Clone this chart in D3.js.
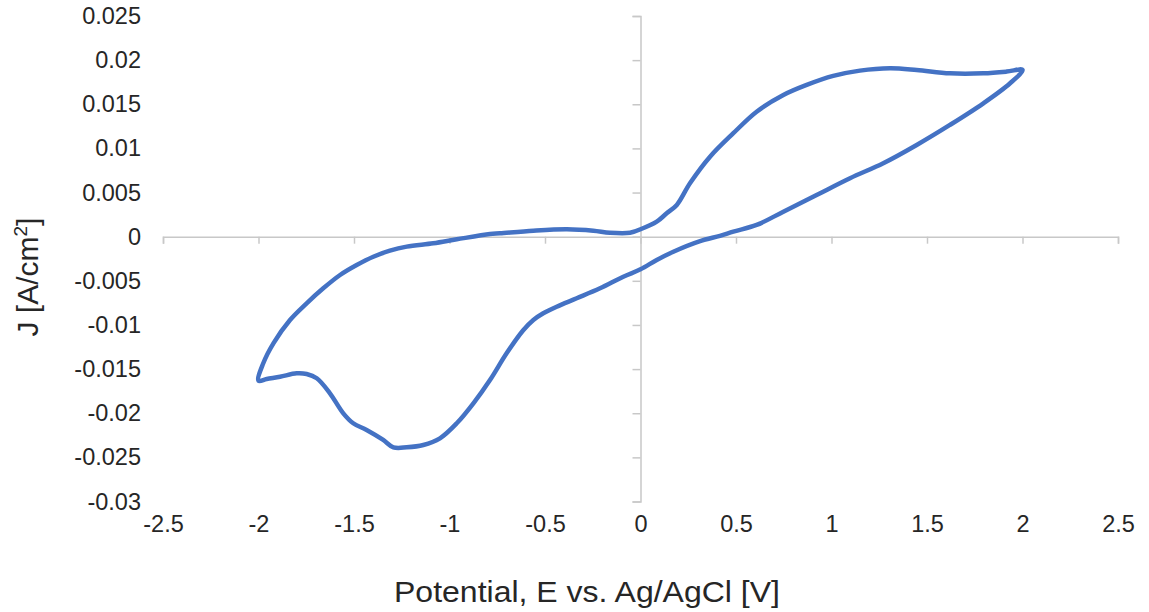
<!DOCTYPE html>
<html>
<head>
<meta charset="utf-8">
<script src="https://cdn.jsdelivr.net/npm/d3@7"></script>
<style>
  html, body { margin: 0; padding: 0; background: #fff; }
  svg text { font-family: "Liberation Sans", Arial, sans-serif; fill: #262626; }
</style>
</head>
<body>
<div id="chart"></div>
<script>
// ── Data: cyclic voltammogram ──
const potential = [
  // 0 → 2 V (anodic, upper branch)
  0.0, 0.085, 0.137, 0.19, 0.259, 0.364, 0.486, 0.608, 0.748, 0.870,
  1.009, 1.149, 1.306, 1.446, 1.620, 1.795, 1.917, 2.0,
  // 2 → -2 V (lower branch)
  1.935, 1.795, 1.620, 1.446, 1.271, 1.097, 0.922, 0.748, 0.608, 0.486,
  0.416, 0.312, 0.172, 0.085, 0.0, -0.09, -0.212, -0.334, -0.439,
  -0.509, -0.561, -0.614, -0.701, -0.788, -0.875, -0.962, -1.05, -1.137,
  -1.224, -1.294, -1.347, -1.434, -1.504, -1.556, -1.626, -1.695, -1.748, -1.800,
  -1.887, -1.957, -2.0,
  // -2 → 0 V (upper-left branch)
  -1.975, -1.922, -1.835, -1.748, -1.661, -1.573, -1.486, -1.399, -1.312, -1.224,
  -1.085, -0.962, -0.788, -0.736, -0.561, -0.386, -0.247, -0.160, -0.055, 0.0
];
const current = [
  0.00084, 0.0017, 0.00265, 0.0036, 0.00605, 0.00906, 0.01172, 0.01416, 0.01605, 0.01719,
  0.01821, 0.01881, 0.01908, 0.01889, 0.01851, 0.01851, 0.0187, 0.0189,
  0.01738, 0.01511, 0.01266, 0.01039, 0.00832, 0.00662, 0.00472, 0.00283, 0.00133, 0.00057,
  0.0001, -0.0005, -0.0017, -0.00264, -0.0037, -0.00453, -0.00585, -0.00698, -0.00793,
  -0.00868, -0.00944, -0.0106, -0.01321, -0.01624, -0.01888, -0.02114, -0.02284, -0.0236,
  -0.02386, -0.02386, -0.02303, -0.0219, -0.02114, -0.02001, -0.01774, -0.01604, -0.01556, -0.01548,
  -0.01586, -0.01612, -0.01631,
  -0.01434, -0.01208, -0.00944, -0.00755, -0.00585, -0.00434, -0.00321, -0.00227, -0.00159, -0.00113,
  -0.00075, -0.0003, 0.0003, 0.00038, 0.00068, 0.00084, 0.00068, 0.00045, 0.00045, 0.00084
];

const xTicks = [-2.5, -2, -1.5, -1, -0.5, 0, 0.5, 1, 1.5, 2, 2.5];
const yTicks = [0.025, 0.02, 0.015, 0.01, 0.005, 0, -0.005, -0.01, -0.015, -0.02, -0.025, -0.03];

const xTitle = "Potential, E vs. Ag/AgCl [V]";

// ── Layout ──
const W = 1149, H = 612;
const LINE_COLOR = "#4472C4";
const AXIS_COLOR = "#C8C8C8";

const svg = d3.select("#chart").append("svg")
  .attr("width", W).attr("height", H);

const x = d3.scaleLinear().domain([-2.5, 2.5]).range([163, 1118]);
const y = d3.scaleLinear().domain([-0.03, 0.025]).range([501.5, 16]);

const fmt = d => String(+d.toFixed(3));

// Y axis line through x = 0
const yAxisLine = svg.append("g")
  .attr("transform", `translate(${x(0)},0)`)
  .call(d3.axisLeft(y).tickValues(yTicks).tickSize(8).tickFormat("").tickSizeOuter(8));
yAxisLine.selectAll("path, line").attr("stroke", AXIS_COLOR).attr("stroke-width", 1.5);

// X axis line through y = 0
const xAxisLine = svg.append("g")
  .attr("transform", `translate(0,${y(0)})`)
  .call(d3.axisBottom(x).tickValues(xTicks).tickSize(7).tickFormat("").tickSizeOuter(7));
xAxisLine.selectAll("path, line").attr("stroke", AXIS_COLOR).attr("stroke-width", 1.5);

// Y tick labels (at the left of the plot)
const yLabels = svg.append("g")
  .attr("transform", "translate(141,0)")
  .call(d3.axisLeft(y).tickValues(yTicks).tickSize(0).tickPadding(0).tickFormat(fmt));
yLabels.select(".domain").remove();
yLabels.selectAll("text")
  .attr("font-size", "23.5px").attr("font-family", null).attr("fill", "#262626");

// X tick labels (at the bottom)
const xLabels = svg.append("g")
  .attr("transform", "translate(0,515)")
  .call(d3.axisBottom(x).tickValues(xTicks).tickSize(0).tickPadding(0).tickFormat(fmt));
xLabels.select(".domain").remove();
xLabels.selectAll("text")
  .attr("font-size", "23.5px").attr("font-family", null).attr("fill", "#262626")
  .attr("dy", "0.71em");

// Curve
const pts = potential.map((e, i) => [e, current[i]]);
const line = d3.line()
  .x(d => x(d[0])).y(d => y(d[1]))
  .curve(d3.curveCatmullRom.alpha(0.5));

svg.append("path")
  .datum(pts)
  .attr("d", line)
  .attr("fill", "none")
  .attr("stroke", LINE_COLOR)
  .attr("stroke-width", 4.5)
  .attr("stroke-linejoin", "round")
  .attr("stroke-linecap", "round");

// Axis titles
svg.append("text")
  .attr("x", 587).attr("y", 602)
  .attr("text-anchor", "middle")
  .attr("font-size", "29px")
  .attr("textLength", 386)
  .attr("lengthAdjust", "spacingAndGlyphs")
  .text(xTitle);

const yt = svg.append("text")
  .attr("transform", "translate(38,277) rotate(-90)")
  .attr("text-anchor", "middle")
  .attr("font-size", "30px");
yt.append("tspan").text("J [A/cm");
yt.append("tspan").attr("font-size", "19px").attr("dy", "-11").text("2");
yt.append("tspan").attr("dy", "11").text("]");
</script>
</body>
</html>
